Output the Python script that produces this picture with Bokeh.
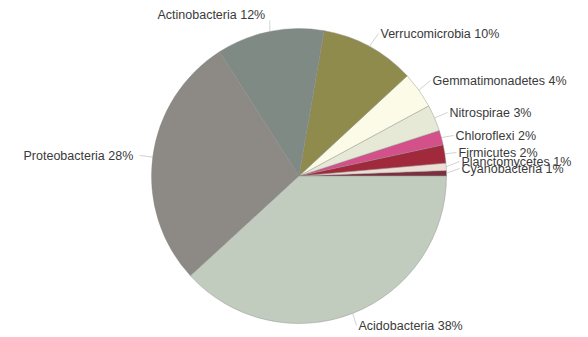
import math

from bokeh.core.properties import value
from bokeh.embed import file_html
from bokeh.models import ColumnDataSource, Range1d
from bokeh.plotting import figure
from bokeh.resources import INLINE

# Phylum shares (percent), listed anticlockwise from 3 o'clock
phyla = [
    "Cyanobacteria", "Planctomycetes", "Firmicutes", "Chloroflexi",
    "Nitrospirae", "Gemmatimonadetes", "Verrucomicrobia", "Actinobacteria",
    "Proteobacteria", "Acidobacteria",
]
shares = [0.6, 0.8, 2.0, 1.6, 2.9, 4.0, 10.4, 11.8, 27.8, 38.2]
colors = [
    "#7b2f3f", "#eedfd6", "#a02a3c", "#d4508b",
    "#e7e9d7", "#fcfbe7", "#8f8b4d", "#7f8a84",
    "#8d8a85", "#c1ccbf",
]

W, H = 588, 337
CX, CY, R = 298.5, H - 175.5, 147.5

# label anchors (left edge of text, vertical middle) in page pixels
label_pos = {
    "Cyanobacteria": (461, 168),
    "Planctomycetes": (461, 161),
    "Firmicutes": (458, 152),
    "Chloroflexi": (455, 135),
    "Nitrospirae": (449, 112),
    "Gemmatimonadetes": (432, 80),
    "Verrucomicrobia": (380, 33),
    "Actinobacteria": (157, 14),
    "Proteobacteria": (23, 155),
    "Acidobacteria": (358, 325),
}

total = sum(shares)
starts, ends, mids = [], [], []
acc = 0.0
for s in shares:
    a0 = acc / total * 2 * math.pi
    acc += s
    a1 = acc / total * 2 * math.pi
    starts.append(a0)
    ends.append(a1)
    mids.append((a0 + a1) / 2)

pie = ColumnDataSource(dict(start=starts, end=ends, color=colors, name=phyla))

p = figure(
    width=W, height=H, output_backend="svg", toolbar_location=None,
    x_range=Range1d(0, W), y_range=Range1d(0, H),
    min_border=0, outline_line_color=None,
)
p.axis.visible = False
p.grid.visible = False
p.background_fill_color = "white"

p.wedge(x=CX, y=CY, radius=R, start_angle="start", end_angle="end",
        direction="anticlock", fill_color="color", line_color="#8a8a86",
        line_width=0.6, line_alpha=0.7, source=pie)

# leader lines from each slice rim to its label
lx0, ly0, lx1, ly1 = [], [], [], []
texts, tx, ty, align = [], [], [], []
for name, s, m in zip(phyla, shares, mids):
    px, py = label_pos[name]
    ex = CX + R * math.cos(m)
    ey = CY + R * math.sin(m)
    left_side = math.cos(m) < -0.3
    if name == "Actinobacteria":
        ax, ay = ex, H - py - 6
    elif left_side:
        ax, ay = px + 116, H - py
    else:
        ax, ay = px - 2, H - py
    lx0.append(ex); ly0.append(ey); lx1.append(ax); ly1.append(ay)
    texts.append(f"{name} {round(s)}%")
    tx.append(px)
    ty.append(H - py)
    align.append("left")

p.segment(x0=lx0, y0=ly0, x1=lx1, y1=ly1, line_color="#b8b8b8",
          line_width=0.8, line_alpha=0.8)

p.text(x=tx, y=ty, text=texts, text_align="left", text_baseline="middle",
       text_font=value("Liberation Sans"), text_font_size="12.5px",
       text_color="#3a3a3a")

open("out.html", "w").write(file_html(p, INLINE))
